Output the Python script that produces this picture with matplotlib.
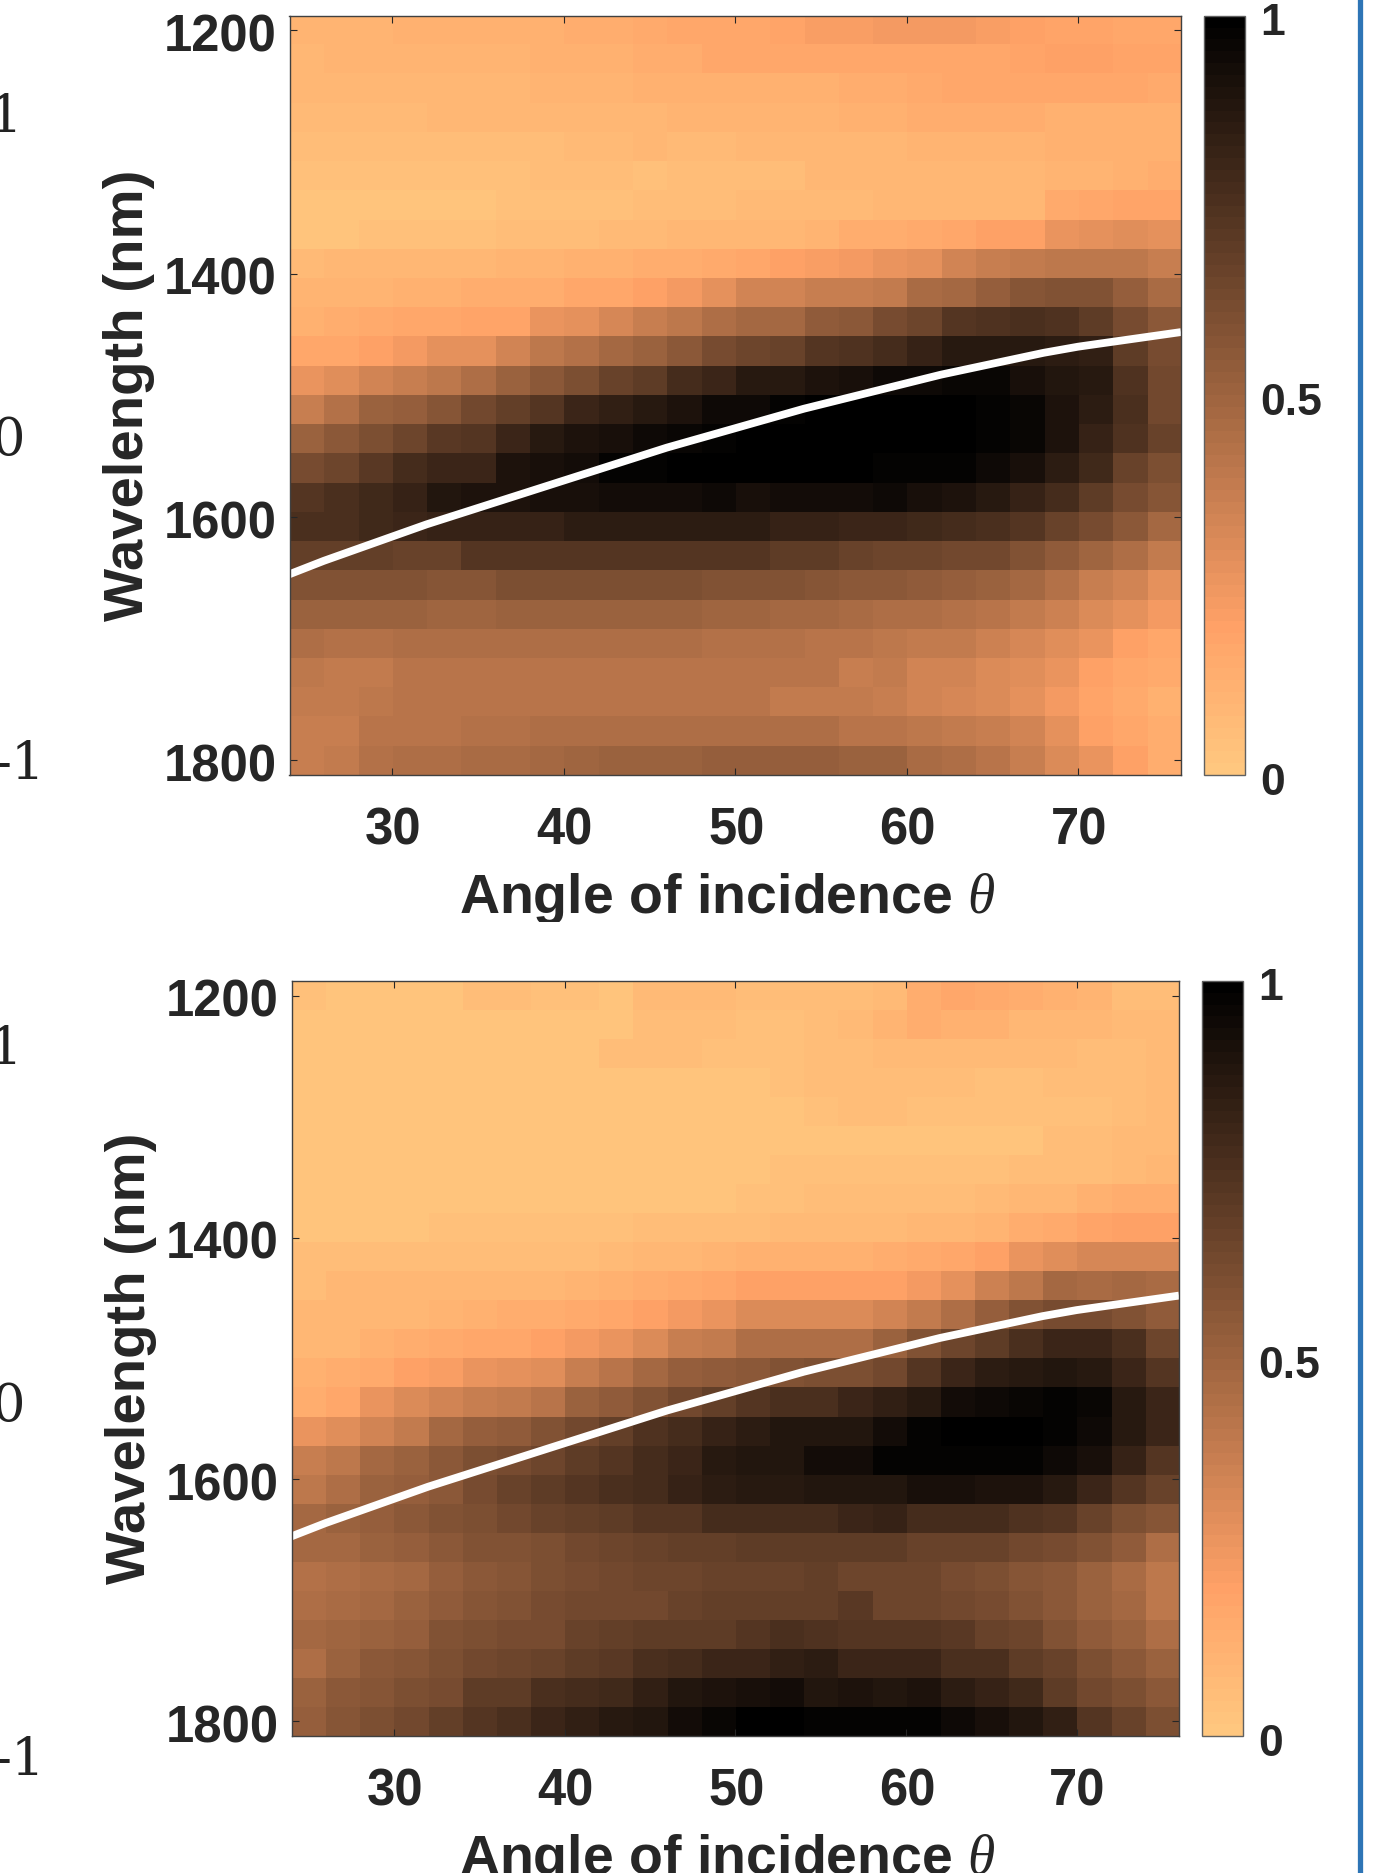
import numpy as np
import matplotlib
matplotlib.use("Agg")
import matplotlib.pyplot as plt
from matplotlib.lines import Line2D
from matplotlib.transforms import Bbox, ScaledTranslation

plt.rcParams['font.family'] = ['Liberation Sans', 'DejaVu Sans']
plt.rcParams['mathtext.fontset'] = 'custom'
plt.rcParams['mathtext.it'] = 'Liberation Serif:italic'
plt.rcParams['mathtext.rm'] = 'Liberation Serif'

W, H = 1383, 1873
DARK = '#262626'

angle_centres = [25 + 2 * i for i in range(26)]
wave_centres = [1200 + 24 * i for i in range(26)]
xtick_vals = [30, 40, 50, 60, 70]
ytick_vals = [1200, 1400, 1600, 1800]
cbar_ticks = [0, 0.5, 1]
cbar_labels = ['0', '0.5', '1']
curve_angle = [24, 26, 28, 30, 32, 34, 36, 38, 40, 42, 44, 46, 48, 50, 52, 54, 56, 58, 60, 62, 64, 66, 68, 70, 72, 74, 76]
curve_wave = [1647, 1636, 1626, 1616, 1606, 1597, 1588, 1579, 1570, 1561, 1552, 1543, 1535, 1527, 1519, 1511, 1504, 1497, 1490, 1483, 1477, 1471, 1465, 1460, 1456, 1452, 1448]
xlabel_text = r'Angle of incidence $\theta$'
ylabel_text = 'Wavelength (nm)'

top_panel = [
 [.10,.10,.10,.11,.11,.11,.11,.12,.13,.14,.15,.16,.16,.17,.18,.21,.21,.23,.23,.22,.21,.19,.18,.18,.17,.17],
 [.09,.10,.10,.10,.10,.10,.10,.11,.11,.12,.14,.14,.16,.16,.17,.17,.17,.17,.17,.17,.17,.18,.19,.19,.18,.18],
 [.08,.08,.08,.09,.09,.09,.09,.10,.10,.10,.11,.11,.12,.12,.12,.12,.14,.14,.15,.16,.16,.17,.17,.17,.16,.15],
 [.07,.07,.07,.07,.08,.08,.08,.08,.09,.09,.09,.10,.10,.10,.10,.10,.11,.11,.13,.13,.13,.13,.12,.12,.12,.12],
 [.05,.05,.05,.06,.06,.06,.06,.06,.07,.07,.08,.07,.07,.09,.09,.09,.09,.09,.10,.10,.10,.10,.11,.11,.11,.11],
 [.04,.04,.04,.04,.04,.04,.04,.05,.05,.06,.04,.05,.05,.06,.06,.08,.08,.08,.09,.09,.09,.09,.10,.10,.11,.13],
 [.03,.03,.03,.03,.03,.03,.04,.04,.04,.04,.05,.05,.06,.07,.07,.07,.07,.08,.08,.08,.09,.09,.15,.16,.18,.18],
 [.03,.03,.04,.04,.04,.04,.05,.05,.06,.07,.07,.08,.08,.09,.09,.10,.13,.14,.15,.16,.19,.19,.25,.27,.29,.27],
 [.07,.08,.08,.08,.09,.09,.10,.10,.11,.12,.13,.14,.15,.17,.19,.21,.23,.25,.28,.34,.36,.39,.40,.40,.40,.37],
 [.10,.10,.10,.11,.12,.13,.14,.14,.16,.16,.19,.23,.28,.33,.34,.36,.37,.38,.46,.48,.53,.57,.58,.58,.53,.46],
 [.11,.13,.15,.16,.17,.18,.18,.25,.28,.32,.36,.40,.44,.47,.48,.54,.56,.62,.65,.72,.74,.76,.74,.70,.62,.55],
 [.17,.17,.19,.22,.27,.28,.33,.40,.43,.47,.51,.56,.61,.65,.67,.72,.74,.78,.82,.86,.86,.87,.85,.83,.70,.62],
 [.25,.29,.34,.36,.40,.45,.50,.55,.60,.66,.70,.78,.80,.86,.87,.90,.92,.94,.95,.96,.96,.92,.88,.86,.74,.64],
 [.37,.43,.50,.53,.57,.63,.68,.72,.80,.83,.86,.90,.94,.95,.98,.99,1,1,1,1,.98,.96,.90,.85,.76,.64],
 [.50,.56,.60,.65,.71,.73,.80,.86,.90,.92,.95,.96,.98,1,1,1,1,1,1,1,.98,.96,.90,.82,.74,.66],
 [.62,.65,.71,.78,.81,.81,.90,.92,.93,.97,.98,.99,.99,1,1,1,1,.98,.98,.97,.95,.91,.85,.79,.66,.60],
 [.72,.76,.79,.82,.88,.90,.90,.92,.92,.93,.93,.93,.94,.92,.93,.93,.93,.94,.92,.90,.87,.82,.78,.70,.61,.57],
 [.76,.76,.79,.81,.82,.82,.82,.82,.85,.85,.85,.85,.85,.85,.82,.82,.80,.80,.79,.78,.75,.72,.67,.62,.55,.48],
 [.68,.68,.68,.67,.67,.72,.72,.72,.72,.72,.72,.72,.72,.72,.70,.70,.67,.65,.65,.64,.63,.58,.54,.49,.45,.39],
 [.59,.59,.59,.58,.57,.57,.60,.60,.60,.60,.60,.60,.58,.58,.58,.57,.56,.55,.54,.53,.50,.47,.43,.37,.33,.28],
 [.50,.50,.50,.50,.49,.49,.51,.51,.51,.50,.50,.50,.49,.49,.48,.47,.46,.45,.44,.43,.41,.38,.35,.30,.27,.22],
 [.44,.43,.43,.44,.44,.44,.44,.44,.44,.44,.44,.44,.43,.43,.43,.42,.42,.40,.39,.38,.35,.32,.29,.25,.19,.17],
 [.40,.39,.39,.42,.42,.42,.41,.41,.41,.41,.41,.41,.41,.42,.42,.41,.37,.38,.34,.34,.31,.29,.25,.20,.17,.15],
 [.38,.38,.40,.41,.41,.42,.42,.42,.42,.42,.42,.41,.41,.41,.39,.38,.38,.37,.33,.32,.30,.27,.23,.18,.15,.12],
 [.37,.36,.41,.41,.41,.43,.43,.44,.44,.44,.44,.44,.44,.44,.44,.44,.42,.42,.40,.38,.36,.33,.27,.19,.17,.13],
 [.37,.39,.43,.44,.45,.46,.46,.47,.49,.51,.51,.50,.52,.53,.53,.53,.51,.50,.46,.45,.42,.37,.31,.26,.19,.14],
]

bottom_panel = [
 [.04,.03,.03,.03,.03,.05,.05,.04,.04,.03,.07,.07,.07,.06,.05,.05,.06,.07,.13,.16,.15,.13,.11,.10,.06,.06],
 [.03,.03,.03,.03,.03,.03,.03,.03,.03,.03,.06,.06,.05,.04,.04,.05,.07,.10,.13,.11,.11,.09,.09,.08,.07,.07],
 [.02,.02,.02,.03,.03,.02,.02,.02,.03,.05,.05,.05,.04,.04,.04,.06,.06,.07,.07,.07,.07,.07,.07,.06,.06,.07],
 [.02,.02,.02,.02,.02,.02,.02,.02,.03,.03,.03,.03,.02,.03,.04,.05,.06,.06,.05,.05,.04,.04,.05,.05,.06,.07],
 [.02,.02,.02,.02,.02,.02,.02,.02,.03,.03,.02,.02,.02,.02,.03,.04,.05,.05,.04,.04,.04,.04,.04,.04,.06,.07],
 [.02,.02,.02,.02,.02,.02,.02,.02,.02,.02,.02,.02,.02,.02,.02,.03,.03,.03,.03,.03,.03,.03,.05,.05,.07,.07],
 [.02,.02,.02,.02,.02,.02,.02,.02,.02,.02,.02,.02,.03,.03,.04,.04,.04,.04,.04,.04,.04,.05,.06,.06,.07,.08],
 [.02,.02,.02,.02,.02,.02,.03,.03,.02,.02,.02,.03,.03,.04,.04,.05,.05,.05,.05,.06,.07,.08,.09,.11,.13,.14],
 [.03,.03,.03,.03,.04,.04,.04,.04,.04,.04,.05,.05,.06,.06,.07,.07,.07,.07,.08,.09,.10,.13,.15,.18,.19,.19],
 [.05,.05,.05,.05,.06,.06,.06,.06,.06,.07,.09,.09,.10,.11,.12,.12,.12,.13,.15,.16,.19,.26,.29,.32,.32,.32],
 [.06,.08,.08,.09,.09,.09,.09,.09,.10,.11,.13,.15,.17,.19,.19,.19,.19,.19,.22,.27,.35,.40,.47,.46,.47,.46],
 [.08,.08,.08,.09,.10,.12,.13,.14,.15,.16,.19,.22,.25,.30,.30,.30,.31,.33,.38,.45,.52,.58,.62,.62,.58,.54],
 [.09,.09,.11,.13,.15,.17,.17,.19,.22,.25,.31,.37,.39,.44,.44,.44,.45,.51,.58,.65,.70,.76,.80,.80,.75,.65],
 [.11,.13,.15,.19,.21,.25,.27,.29,.36,.42,.48,.52,.54,.56,.58,.60,.60,.63,.72,.80,.85,.87,.89,.87,.80,.72],
 [.14,.17,.25,.31,.34,.36,.38,.42,.50,.54,.58,.63,.68,.73,.75,.75,.80,.83,.87,.93,.95,.96,.97,.96,.86,.80],
 [.25,.29,.34,.39,.47,.53,.54,.58,.63,.68,.74,.78,.82,.85,.88,.89,.89,.93,.97,1,1,1,.97,.95,.87,.80],
 [.37,.40,.47,.50,.56,.60,.62,.65,.70,.73,.77,.80,.86,.88,.88,.93,.93,.97,.98,.97,.98,.97,.94,.92,.82,.72],
 [.40,.45,.50,.53,.55,.62,.66,.70,.72,.75,.78,.82,.85,.87,.87,.89,.89,.89,.92,.91,.90,.90,.87,.80,.72,.66],
 [.47,.50,.53,.55,.58,.60,.64,.66,.68,.70,.72,.72,.78,.78,.78,.78,.80,.82,.78,.78,.77,.74,.72,.66,.60,.57],
 [.47,.48,.50,.52,.55,.58,.58,.60,.63,.65,.67,.68,.68,.70,.70,.70,.70,.70,.67,.67,.66,.63,.61,.58,.54,.45],
 [.43,.45,.46,.47,.52,.55,.57,.60,.62,.63,.65,.65,.67,.67,.67,.68,.65,.65,.65,.62,.60,.57,.55,.50,.46,.40],
 [.45,.46,.48,.50,.54,.57,.58,.61,.63,.64,.64,.67,.68,.68,.68,.68,.71,.65,.65,.63,.62,.58,.55,.50,.47,.40],
 [.47,.49,.50,.53,.58,.60,.61,.62,.66,.68,.69,.69,.69,.72,.76,.74,.72,.72,.72,.71,.67,.65,.58,.54,.50,.44],
 [.44,.50,.56,.57,.60,.63,.65,.67,.69,.71,.75,.78,.80,.80,.84,.85,.80,.80,.81,.76,.75,.70,.66,.60,.56,.50],
 [.50,.55,.57,.60,.62,.70,.70,.76,.77,.79,.83,.88,.90,.92,.93,.88,.90,.89,.90,.85,.82,.79,.70,.64,.60,.55],
 [.53,.57,.60,.63,.68,.73,.75,.80,.84,.86,.88,.93,.96,.99,1,.97,.98,.98,.97,.95,.92,.88,.83,.72,.66,.60],
]

cmap = plt.get_cmap('copper_r', 64)
fig = plt.figure(figsize=(W / 100, H / 100), dpi=100, facecolor='white')


def box(l, t, r, b):
    return [l / W, 1 - b / H, (r - l) / W, (b - t) / H]


def shift(labels, dx_px, dy_px):
    off = ScaledTranslation(dx_px / 100, dy_px / 100, fig.dpi_scale_trans)
    for lab in labels:
        lab.set_transform(lab.get_transform() + off)


def panel(data, ax_box, cax_box, xlab_y_px, ylab_x, clip_bottom=None):
    ax = fig.add_axes(box(*ax_box))
    x = np.array(angle_centres, float)
    y = np.array(wave_centres, float)
    im = ax.imshow(np.array(data), cmap=cmap, vmin=0, vmax=1, aspect='auto',
                   origin='upper', interpolation='nearest',
                   extent=[x[0] - 1, x[-1] + 1, y[-1] + 12, y[0] - 12])
    ax.plot(curve_angle, curve_wave, color='white', lw=5.6, solid_capstyle='butt',
            solid_joinstyle='round', snap=False)
    ax.set_xlim(x[0] - 1, x[-1] + 1)
    ax.set_ylim(y[-1] + 12, y[0] - 12)
    ax.set_xticks(xtick_vals)
    ax.set_yticks(ytick_vals)
    ax.tick_params(axis='both', direction='in', length=5, width=0.8, color=DARK,
                   top=True, right=True, labelsize=36.5, labelcolor=DARK)
    ax.tick_params(axis='x', pad=22.5)
    ax.tick_params(axis='y', pad=9)
    for lab in ax.get_xticklabels() + ax.get_yticklabels():
        lab.set_fontweight('bold')
    shift(ax.get_xticklabels(), 1, 0)
    shift(ax.get_yticklabels(), 0, -2)
    for s in ax.spines.values():
        s.set_linewidth(1.0)
        s.set_color('#404040')
    ax.set_xlabel(xlabel_text, fontsize=40, fontweight='bold', color=DARK)
    # label baseline placed from pixel measure of the reference
    l, t, r, b = ax_box
    lab = ax.xaxis.label
    lab.set_va('baseline')
    ax.xaxis.set_label_coords(0.4915, (b - xlab_y_px) / (b - t))
    if clip_bottom is not None:
        lab.set_clip_box(Bbox([[0, H - clip_bottom], [W, H]]))
        lab.set_clip_on(True)
    ax.set_ylabel(ylabel_text, fontsize=40.5, fontweight='bold', color=DARK)
    ax.yaxis.set_label_coords(ylab_x, 0.5)

    cax = fig.add_axes(box(*cax_box))
    cb = fig.colorbar(im, cax=cax)
    cb.set_ticks(cbar_ticks)
    cb.set_ticklabels(cbar_labels)
    cb.ax.tick_params(length=0, pad=11, labelsize=32, labelcolor=DARK)
    for tl in cb.ax.get_yticklabels():
        tl.set_fontweight('bold')
    shift(cb.ax.get_yticklabels(), 0, -3.5)
    cb.outline.set_linewidth(1.0)
    cb.outline.set_edgecolor('#606060')


panel(top_panel, (289.5, 15.7, 1181, 775), (1203.5, 15.7, 1245, 775), 912.7, -0.151, clip_bottom=922)
panel(bottom_panel, (291.5, 981, 1179, 1736), (1201.5, 981, 1243, 1736), 1873.5, -0.151)

# Side scale digits from a neighbouring panel, cut by the left edge of the picture
side_labels = ['1', '0', '-1', '1', '0', '-1']
side_right = [22, 25, 45, 22, 25, 45]
side_base = [131.7, 455.4, 779, 1064.5, 1420.5, 1775]
for s, xr, yb in zip(side_labels, side_right, side_base):
    fig.text(xr / W, 1 - yb / H, s, ha='right', va='baseline',
             fontsize=38, family='DejaVu Serif', color='#222222')

# Blue vertical frame line
fig.add_artist(Line2D([1359.5 / W, 1359.5 / W], [0, 1], transform=fig.transFigure,
                      color='#2E75B6', lw=3.8))

fig.savefig('out.png', dpi=100, facecolor='white')
